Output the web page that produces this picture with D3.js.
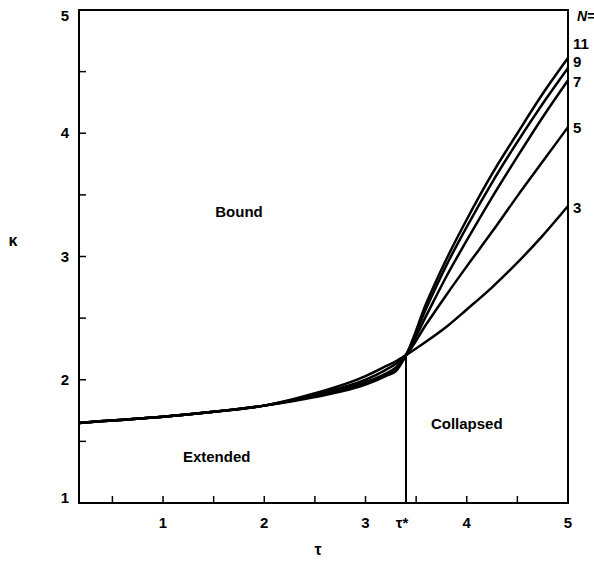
<!DOCTYPE html>
<html>
<head>
<meta charset="utf-8">
<script src="https://cdn.jsdelivr.net/npm/d3@7"></script>
<style>
  body { margin: 0; background: #fff; }
  text { font-family: "Liberation Sans", Arial, sans-serif; fill: #000; font-weight: bold; }
</style>
</head>
<body>
<div id="chart"></div>
<script>
// tau grid shared by every curve
const tauGrid = [0.17, 0.5, 1, 1.5, 2, 2.5, 3, 3.2, 3.3, 3.4, 3.6, 3.8, 4, 4.25, 4.5, 4.75, 5];

const kappaN3 = [1.65, 1.67, 1.70, 1.74, 1.79, 1.89, 2.03, 2.11, 2.15, 2.2, 2.31, 2.43, 2.57, 2.75, 2.95, 3.17, 3.41];
const kappaN5 = [1.65, 1.67, 1.70, 1.74, 1.79, 1.88, 2.00, 2.08, 2.13, 2.2, 2.45, 2.69, 2.92, 3.20, 3.49, 3.77, 4.05];
const kappaN7 = [1.65, 1.67, 1.70, 1.74, 1.79, 1.87, 1.98, 2.05, 2.10, 2.2, 2.52, 2.84, 3.13, 3.48, 3.81, 4.13, 4.43];
const kappaN9 = [1.65, 1.67, 1.70, 1.74, 1.79, 1.87, 1.97, 2.04, 2.08, 2.2, 2.58, 2.93, 3.24, 3.60, 3.93, 4.24, 4.53];
const kappaN11 = [1.65, 1.67, 1.70, 1.74, 1.79, 1.86, 1.96, 2.03, 2.07, 2.2, 2.62, 2.98, 3.30, 3.67, 4.00, 4.32, 4.61];

const chainLengths = ['11', '9', '7', '5', '3'];
const curves = [kappaN11, kappaN9, kappaN7, kappaN5, kappaN3];

const tauStar = 3.4;
const kappaStar = 2.2;

const xTicks = [0.5, 1, 1.5, 2, 2.5, 3, 3.5, 4, 4.5];
const xLabels = [1, 2, 3, 4, 5];
const yTicks = [1.5, 2, 2.5, 3, 3.5, 4, 4.5];
const yLabels = [1, 2, 3, 4, 5];

const width = 594;
const height = 568;

const svg = d3.select('#chart')
  .append('svg')
  .attr('width', width)
  .attr('height', height);

const x = d3.scaleLinear().domain([0.17, 5]).range([79, 568]);
const y = d3.scaleLinear().domain([1, 5]).range([503, 10]);

// frame
svg.append('rect')
  .attr('x', x.range()[0])
  .attr('y', y.range()[1])
  .attr('width', x.range()[1] - x.range()[0])
  .attr('height', y.range()[0] - y.range()[1])
  .attr('fill', 'none')
  .attr('stroke', '#000')
  .attr('stroke-width', 2);

// inward ticks
svg.append('g')
  .selectAll('line')
  .data(xTicks)
  .join('line')
  .attr('x1', (d) => x(d))
  .attr('x2', (d) => x(d))
  .attr('y1', y(1))
  .attr('y2', y(1) - 7)
  .attr('stroke', '#000')
  .attr('stroke-width', 1.5);

svg.append('g')
  .selectAll('line')
  .data(yTicks)
  .join('line')
  .attr('x1', x(0.17))
  .attr('x2', x(0.17) + 7)
  .attr('y1', (d) => y(d))
  .attr('y2', (d) => y(d))
  .attr('stroke', '#000')
  .attr('stroke-width', 1.5);

// tick labels
svg.append('g')
  .selectAll('text')
  .data(xLabels)
  .join('text')
  .attr('x', (d) => x(d))
  .attr('y', 528)
  .attr('text-anchor', 'middle')
  .style('font-size', '15px')
  .text((d) => d);

svg.append('text')
  .attr('x', x(tauStar) - 4)
  .attr('y', 528)
  .attr('text-anchor', 'middle')
  .style('font-size', '15px')
  .text('τ*');

svg.append('g')
  .selectAll('text')
  .data(yLabels)
  .join('text')
  .attr('x', 69)
  .attr('y', (d) => Math.min(Math.max(y(d), 16), 498) + 5)
  .attr('text-anchor', 'end')
  .style('font-size', '15px')
  .text((d) => d);

// axis titles
svg.append('text')
  .attr('x', 318)
  .attr('y', 555)
  .attr('text-anchor', 'middle')
  .style('font-size', '16px')
  .text('τ');

svg.append('text')
  .attr('x', 13)
  .attr('y', 246)
  .attr('text-anchor', 'middle')
  .style('font-size', '16px')
  .text('κ');

// vertical line at tau*
svg.append('line')
  .attr('x1', x(tauStar))
  .attr('x2', x(tauStar))
  .attr('y1', y(1))
  .attr('y2', y(kappaStar))
  .attr('stroke', '#000')
  .attr('stroke-width', 2);

// curves
const line = d3.line()
  .x((d, i) => x(tauGrid[i]))
  .y((d) => y(d))
  .curve(d3.curveMonotoneX);

svg.append('g')
  .selectAll('path')
  .data(curves)
  .join('path')
  .attr('d', (d) => line(d))
  .attr('fill', 'none')
  .attr('stroke', '#000')
  .attr('stroke-width', 2.5);

// N labels at right
svg.append('text')
  .attr('x', 577)
  .attr('y', 21)
  .style('font-size', '14px')
  .html('<tspan font-style="italic">N</tspan>=');

const labelY = [44, 62, 82, 128, 208];
svg.append('g')
  .selectAll('text')
  .data(chainLengths)
  .join('text')
  .attr('x', 573)
  .attr('y', (d, i) => labelY[i] + 5)
  .style('font-size', '15px')
  .text((d) => d);

// region labels
const regions = [
  { name: 'Bound', tau: 1.75, kappa: 3.37 },
  { name: 'Extended', tau: 1.53, kappa: 1.38 },
  { name: 'Collapsed', tau: 4.0, kappa: 1.65 }
];

svg.append('g')
  .selectAll('text')
  .data(regions)
  .join('text')
  .attr('x', (d) => x(d.tau))
  .attr('y', (d) => y(d.kappa) + 6)
  .attr('text-anchor', 'middle')
  .style('font-size', '15px')
  .text((d) => d.name);
</script>
</body>
</html>
